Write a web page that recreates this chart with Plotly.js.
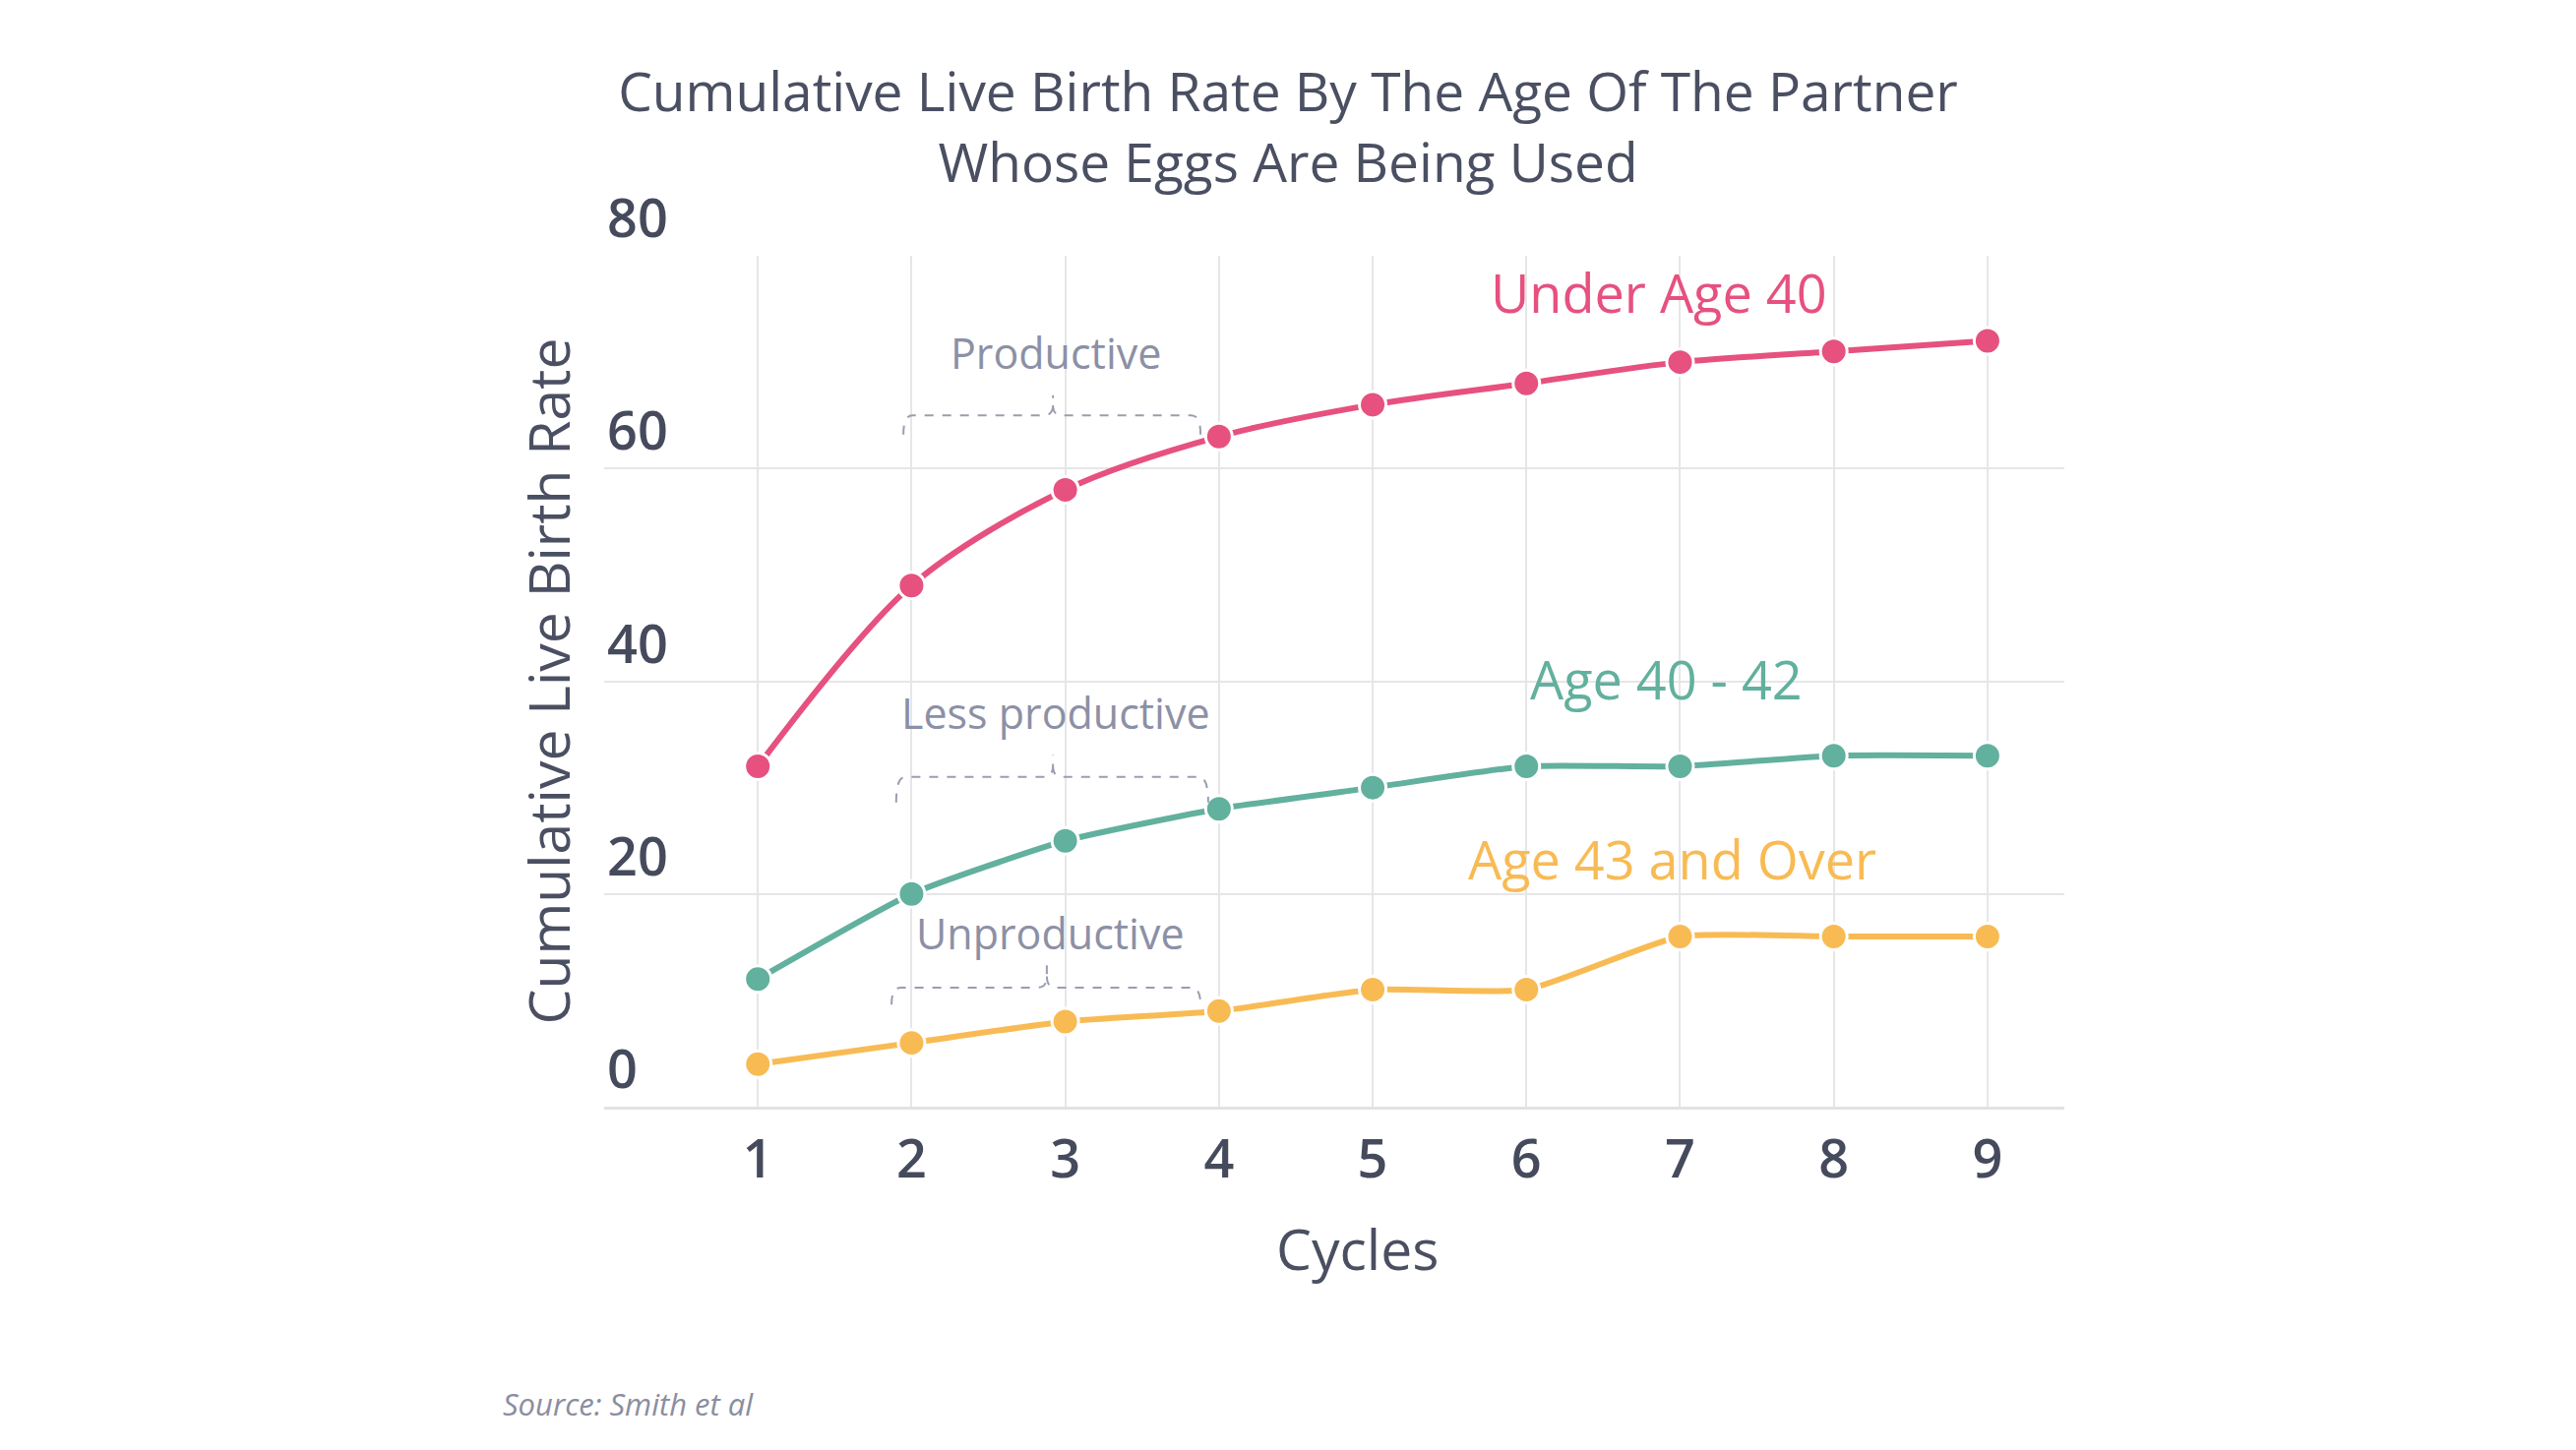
<!DOCTYPE html>
<html>
<head>
<meta charset="utf-8">
<script src="https://cdn.plot.ly/plotly-3.0.1.min.js"></script>
<style>html,body{margin:0;padding:0;background:#fff;}#chart{width:2618px;height:1474px;}</style>
</head>
<body>
<div id="chart"></div>
<script>
// ---- data ----
const cycles = [1, 2, 3, 4, 5, 6, 7, 8, 9];
const under40 = [32, 49, 58, 63, 66, 68, 70, 71, 72];
const age40to42 = [12, 20, 25, 28, 30, 32, 32, 33, 33];
const age43plus = [4, 6, 8, 9, 11, 11, 16, 16, 16];
const seriesNames = ["Under Age 40", "Age 40 - 42", "Age 43 and Over"];
const yTicks = [0, 20, 40, 60, 80];
const bracketLabels = ["Productive", "Less productive", "Unproductive"];

const colors = ["#e6517f", "#62b09e", "#f8bb54"];
const seriesVals = [under40, age40to42, age43plus];
const smooth = [0.9, 0.5, 0.5];

const traces = seriesVals.map((v, i) => ({
  x: cycles, y: v, type: "scatter", mode: "lines+markers", name: seriesNames[i],
  line: {color: colors[i], width: 6, shape: "spline", smoothing: smooth[i]},
  marker: {color: colors[i], size: 27, line: {color: "#ffffff", width: 3}},
  hoverinfo: "x+y"
}));

// series label positions (layout only)
const labelPos = [[6.86, 76.6], [6.91, 40.2], [6.95, 23.3]];
const annotations = seriesNames.map((t, i) => ({
  x: labelPos[i][0], y: labelPos[i][1], xref: "x", yref: "y", text: t, showarrow: false,
  font: {family: "Open Sans", size: 54, color: colors[i]}, xanchor: "center", yanchor: "middle"
}));

// bracket geometry (layout only)
const brackets = [
  {x0: 1.947, x1: 3.88, xc: 2.92, yh: 65.0, ye: 63.2, yt: 66.9, ly: 70.9},
  {x0: 1.90, x1: 3.93, xc: 2.92, yh: 31.0, ye: 28.6, yt: 33.1, ly: 37.0},
  {x0: 1.87, x1: 3.88, xc: 2.88, yh: 11.2, ye: 9.6, yt: 13.3, ly: 16.3}
];
const shapes = [];
brackets.forEach((b, i) => {
  const dx = 0.06, dy = (b.yt - b.yh) * 0.5;
  const p = `M ${b.x0},${b.ye} Q ${b.x0},${b.yh} ${b.x0 + dx},${b.yh} L ${b.xc - dx},${b.yh} Q ${b.xc},${b.yh} ${b.xc},${b.yh + dy} L ${b.xc},${b.yt} M ${b.xc},${b.yh + dy} Q ${b.xc},${b.yh} ${b.xc + dx},${b.yh} L ${b.x1 - dx},${b.yh} Q ${b.x1},${b.yh} ${b.x1},${b.ye}`;
  shapes.push({type: "path", xref: "x", yref: "y", path: p, line: {color: "#9a9eb0", width: 2, dash: "dash"}, layer: "above"});
  annotations.push({
    x: b.xc + 0.02, y: b.ly, xref: "x", yref: "y", text: bracketLabels[i], showarrow: false,
    font: {family: "Open Sans", size: 43, color: "#8c90a6"}, xanchor: "center", yanchor: "middle"
  });
});

const L = 614, R = 520, T = 260, B = 349, W = 2618, H = 1474;
const PW = W - L - R, PH = H - T - B;
annotations.push({
  x: (509 - L) / PW, y: (H - B - 1427) / PH, xref: "paper", yref: "paper",
  text: "<i>Source: Smith et al</i>", showarrow: false,
  font: {family: "Open Sans", size: 31, color: "#8a8ea0"}, xanchor: "left", yanchor: "middle"
});
// x-axis title (offset from plot centre in the original)
annotations.push({
  x: (1379 - L) / PW, y: (H - B - 1269) / PH, xref: "paper", yref: "paper",
  text: "Cycles", showarrow: false,
  font: {family: "Open Sans", size: 57, color: "#4a4f62"}, xanchor: "center", yanchor: "middle"
});

const layout = {
  width: W, height: H,
  paper_bgcolor: "#ffffff", plot_bgcolor: "#ffffff",
  margin: {l: L, r: R, t: T, b: B, pad: 0},
  showlegend: false,
  font: {family: "Open Sans", color: "#454a5c"},
  title: {
    text: "Cumulative Live Birth Rate By The Age Of The Partner<br>Whose Eggs Are Being Used",
    font: {family: "Open Sans", size: 55, color: "#4a4f62"},
    x: 0.5, xanchor: "center", xref: "container",
    y: 1 - 113 / H, yref: "container", yanchor: "middle"
  },
  xaxis: {
    range: [0, 9.5], tickvals: cycles, ticktext: cycles.map(String),
    showgrid: true, gridcolor: "#e6e6e6", gridwidth: 2,
    zeroline: false, showline: true, linecolor: "#e2e2e2", linewidth: 3,
    ticks: "", ticklabelstandoff: 4,
    tickfont: {family: "Open Sans", size: 54, color: "#454a5c", weight: 600},
    fixedrange: true
  },
  yaxis: {
    range: [0, 80], tickvals: yTicks, ticktext: yTicks.map(String),
    showgrid: true, gridcolor: "#e6e6e6", gridwidth: 2, zeroline: false,
    ticks: "", ticklabelposition: "inside top", ticklabeloverflow: "allow",
    tickfont: {family: "Open Sans", size: 54, color: "#454a5c", weight: 600},
    title: {text: "Cumulative Live Birth Rate", font: {family: "Open Sans", size: 57, color: "#4a4f62"}, standoff: 19},
    automargin: false, fixedrange: true
  },
  annotations: annotations,
  shapes: shapes
};

Plotly.newPlot("chart", traces, layout, {displayModeBar: false, staticPlot: true});
</script>
</body>
</html>
